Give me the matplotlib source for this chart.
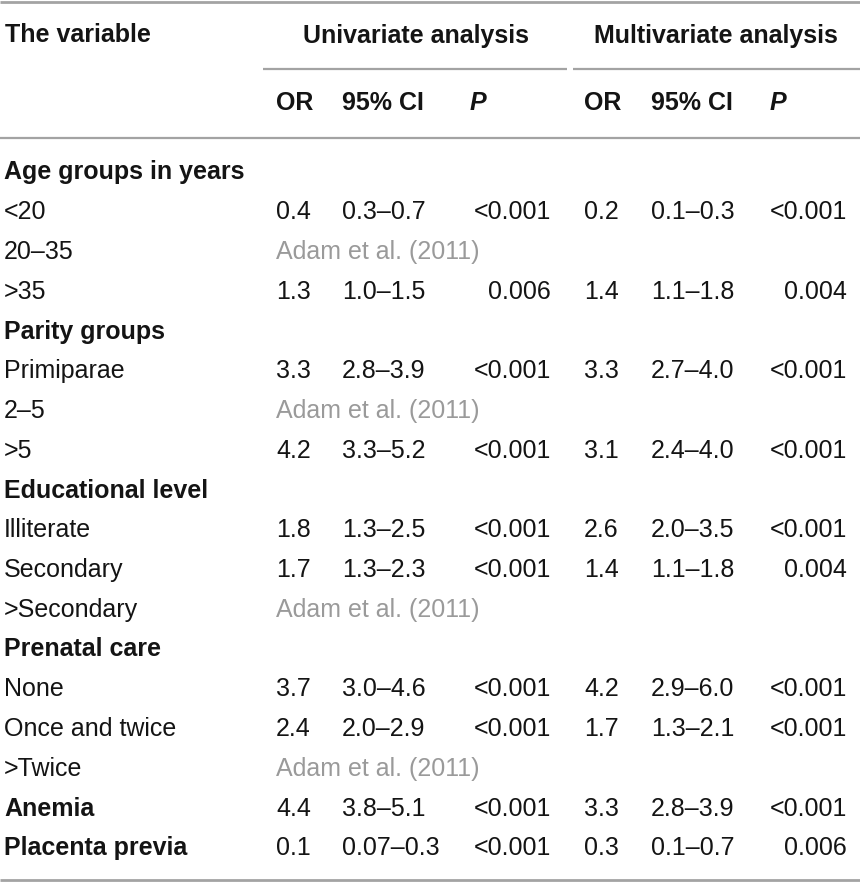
import matplotlib
matplotlib.use("Agg")
import matplotlib.pyplot as plt
from matplotlib.lines import Line2D

FAM = ["Liberation Sans", "DejaVu Sans"]
TXT = "#141414"
GRAY = "#a3a3a3"
REF = "#9a9a9a"

labels = ["Age groups in years", "<20", "20–35", ">35",
          "Parity groups", "Primiparae", "2–5", ">5",
          "Educational level", "Illiterate", "Secondary", ">Secondary",
          "Prenatal care", "None", "Once and twice", ">Twice",
          "Anemia", "Placenta previa"]
bold_rows = [True, False, False, False,
             True, False, False, False,
             True, False, False, False,
             True, False, False, False,
             True, True]
or_uni = ["", "0.4", "", "1.3", "", "3.3", "", "4.2", "", "1.8", "1.7", "", "", "3.7", "2.4", "", "4.4", "0.1"]
ci_uni = ["", "0.3–0.7", "", "1.0–1.5", "", "2.8–3.9", "", "3.3–5.2", "", "1.3–2.5", "1.3–2.3", "", "", "3.0–4.6", "2.0–2.9", "", "3.8–5.1", "0.07–0.3"]
p_uni = ["", "<0.001", "", "0.006", "", "<0.001", "", "<0.001", "", "<0.001", "<0.001", "", "", "<0.001", "<0.001", "", "<0.001", "<0.001"]
or_mul = ["", "0.2", "", "1.4", "", "3.3", "", "3.1", "", "2.6", "1.4", "", "", "4.2", "1.7", "", "3.3", "0.3"]
ci_mul = ["", "0.1–0.3", "", "1.1–1.8", "", "2.7–4.0", "", "2.4–4.0", "", "2.0–3.5", "1.1–1.8", "", "", "2.9–6.0", "1.3–2.1", "", "2.8–3.9", "0.1–0.7"]
p_mul = ["", "<0.001", "", "0.004", "", "<0.001", "", "<0.001", "", "<0.001", "0.004", "", "", "<0.001", "<0.001", "", "<0.001", "0.006"]
reference_rows = [False, False, True, False, False, False, True, False, False, False, False, True, False, False, False, True, False, False]
ref_text = "Adam et al. (2011)"

W, H = 860, 883
fig = plt.figure(figsize=(W / 100, H / 100), dpi=100)
ax = fig.add_axes([0, 0, 1, 1])
ax.set_xlim(0, W)
ax.set_ylim(H, 0)
ax.axis("off")

FS = 18

def t(x, y, s, ha="left", bold=False, italic=False, color=TXT):
    ax.text(x, y, s, ha=ha, va="center_baseline", fontsize=FS, family=FAM,
            fontweight="bold" if bold else "normal",
            fontstyle="italic" if italic else "normal", color=color)

def hline(x0, x1, y, lw=1.6):
    ax.add_line(Line2D([x0, x1], [y, y], color=GRAY, lw=lw, solid_capstyle="butt"))

# rules
hline(0, W, 2, 2)
hline(263, 567, 69)
hline(573, W, 69)
hline(0, W, 138)
hline(0, W, 880, 2)

# headers
t(5, 33, "The variable", bold=True)
t(416, 33, "Univariate analysis", ha="center", bold=True)
t(716, 33, "Multivariate analysis", ha="center", bold=True)
col_sets = [(276, 342, 470), (584, 651, 770)]
for x_or, x_ci, x_p in col_sets:
    t(x_or, 101, "OR", bold=True)
    t(x_ci, 101, "95% CI", bold=True)
    t(x_p, 101, "P", bold=True, italic=True)

y0, dy = 170, 39.75
for i, lab in enumerate(labels):
    y = y0 + i * dy
    t(4, y, lab, bold=bold_rows[i])
    if reference_rows[i]:
        t(276, y, ref_text, color=REF)
        continue
    t(276, y, or_uni[i])
    t(342, y, ci_uni[i])
    t(551, y, p_uni[i], ha="right")
    t(584, y, or_mul[i])
    t(651, y, ci_mul[i])
    t(847, y, p_mul[i], ha="right")

fig.savefig("out.png", dpi=100)
